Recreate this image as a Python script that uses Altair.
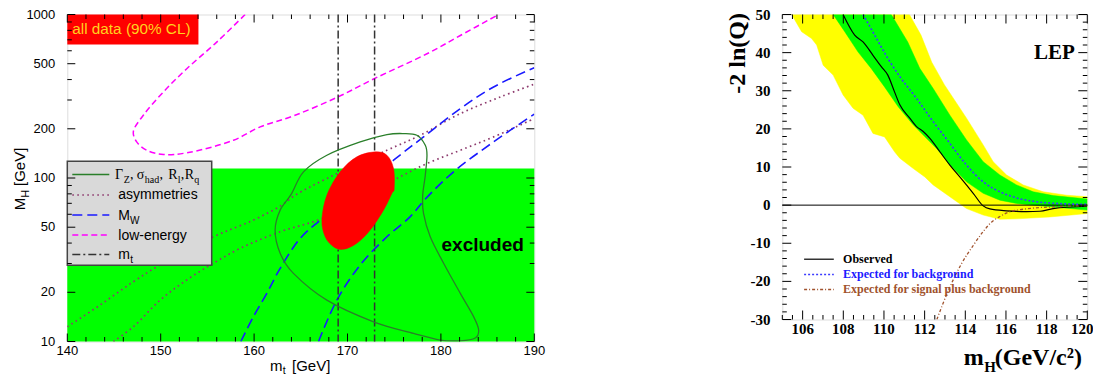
import altair as alt
import pandas as pd

# ================= LEFT PANEL: (m_t, M_H) plane =================
EXCL_MT = [140, 190]
EXCL_MH = [10, 114.4]
TAG_MT = [140, 154.04]
TAG_MH = [656, 1000]
MT_MEAS = [169.0, 172.9]

LOWE_MT = [159.04, 156.0, 152.79, 150.29, 148.14, 147.07, 147.43, 148.51, 150.29, 152.79,
           157.79, 160.65, 164.21, 168.97, 172.86, 178.51, 182.08, 186.18]
LOWE_MH = [1000, 678, 466, 336, 242, 191.5, 166.3, 147.8, 139.2, 142.5,
           170.2, 205.4, 239.8, 313, 405, 575, 744, 1000]

ASYM_A_MT = [140, 143.5, 147.07, 149.93, 155.64, 159.93, 162.79, 164.4, 167.79, 174.22, 177.79, 182.08, 186.36, 190]
ASYM_A_MH = [12.3, 16.7, 23.2, 29.4, 43.7, 55.3, 67.3, 78.5, 99.3, 147.8, 182.5, 247.6, 313, 375]
ASYM_B_MT = [144.93, 147.07, 149.93, 152.79, 155.64, 158.5, 162.79, 167.26, 174.93, 178.51, 182.08, 185.64, 190]
ASYM_B_MH = [10, 12.3, 17.9, 23.8, 30.1, 37.1, 46.9, 56.6, 97, 122.6, 147.8, 178.4, 231]

MW_A_MT = [158.58, 159.93, 161.36, 162.79, 164.93, 167.08, 174.93, 178.14, 182.08, 185.64, 190]
MW_A_MH = [10, 14.2, 19.7, 28.0, 42.7, 55.3, 128.5, 178.4, 265.7, 360.5, 473]
MW_B_MT = [166.9, 168.86, 171.36, 174.22, 176.72, 178.3, 181.36, 185.64, 190]
MW_B_MH = [10, 17.9, 29.4, 43.7, 58.0, 74, 109.1, 166.3, 246]

GZ_MT = [176.0, 177.43, 178.33, 178.51, 178.33, 178.05, 178.14, 178.86, 180.29, 182.08, 183.5, 184.04,
         183.68, 182.08, 179.93, 177.07, 172.79, 167.79, 164.21, 162.79, 162.25, 162.79, 164.0, 165.29,
         167.79, 171.36, 174.22]
GZ_MH = [187, 182.5, 158.6, 137.8, 104, 78, 60.7, 43.7, 30.1, 19.7, 14.2, 11.8,
         10.5, 10.1, 10.2, 11.2, 13.2, 17.9, 26.1, 34.6, 48, 63.6, 80, 109.1,
         137.8, 166.3, 184.3]

ALL_MT = [172.97, 174.22, 174.93, 175.0, 174.75, 173.86, 172.43, 171.0, 169.57, 168.5, 167.61, 167.26,
          167.79, 169.22, 171.0]
ALL_MH = [144.5, 137.8, 114.3, 86, 80.4, 63.6, 48, 39.9, 36.6, 38.0, 43.7, 55.3,
          78.5, 109.1, 134.7]

L_XTICKS = [140, 150, 160, 170, 180, 190]
L_XMINOR = [v for v in range(140, 191, 2) if v % 10 != 0]
L_YTICKS = [10, 20, 50, 100, 200, 500, 1000]
L_YMINOR = [30, 40, 60, 70, 80, 90, 300, 400, 600, 700, 800, 900]

# ================= RIGHT PANEL: -2 ln(Q) vs m_H =================
YEL_LO_X = [105.46, 105.95, 106.44, 106.69, 107.01, 107.5, 107.99, 108.48, 108.97, 109.46, 110.03, 110.52,
            110.78, 111.44, 112.01, 112.42, 113.24, 114.06, 114.88, 115.7, 116.52, 118.16, 120]
YEL_LO_Y = [50, 45.5, 43.7, 42.0, 36.7, 34.1, 28.9, 25.4, 23.6, 18.8, 17.9, 14.0,
            12.3, 9.6, 7.4, 5.3, 2.2, -0.9, -2.6, -3.7, -3.6, -3.1, -2.2]
YEL_HI_X = [111.25, 111.82, 112.35, 112.97, 114.06, 114.88, 115.37, 116.03, 116.85, 117.83, 118.98, 120]
YEL_HI_Y = [50, 44.6, 37.5, 31.6, 22.8, 15.8, 11.4, 7.9, 5.3, 3.5, 2.6, 2.2]
GRN_LO_X = [107.5, 108.07, 108.72, 109.38, 110.03, 110.7, 111.4, 112.0, 112.6, 113.24, 114.06, 114.88,
            115.7, 116.52, 118.16, 120]
GRN_LO_Y = [50, 45.5, 40.2, 35.8, 31.0, 25.8, 21.3, 18.0, 14.8, 10.6, 6.1, 3.1,
            1.3, 0.45, -0.4, -1.3]
GRN_HI_X = [110.36, 111.17, 111.76, 112.42, 113.24, 114.06, 114.88, 115.7, 116.52, 117.34, 118.32, 120]
GRN_HI_Y = [50, 42.8, 35.9, 30.6, 23.6, 17.1, 11.4, 7.9, 5.3, 3.5, 2.5, 1.6]

OBS_X = [107.99, 108.56, 108.97, 109.46, 109.87, 110.19, 110.52, 110.78, 111.27, 111.6, 111.93, 112.26,
         112.75, 113.24, 113.73, 114.39, 114.88, 115.21, 116.03, 117.01, 117.67, 118.32, 120]
OBS_Y = [50, 44.6, 42.8, 39.3, 36.3, 34.1, 29.7, 26.3, 22.8, 20.6, 19.3, 17.5,
         14.0, 10.5, 7.4, 3.1, -0.2, -1.0, -1.5, -1.7, -1.6, -0.9, -0.3]
BKG_X = [108.97, 109.54, 110.19, 110.78, 111.6, 112.42, 113.24, 114.06, 114.88, 115.7, 116.52, 117.34, 118.65, 120]
BKG_Y = [50, 44.6, 38.5, 33.7, 28.0, 21.9, 16.2, 10.5, 6.1, 3.5, 1.9, 1.0, 0.4, 0.2]
SIG_X = [112.6, 113.2, 113.8, 114.4, 114.9, 115.3, 115.7, 116.1, 116.7, 117.3, 118.5, 120]
SIG_Y = [-30, -22, -15.5, -10.5, -6.8, -4.4, -3.0, -1.9, -1.2, -0.8, -0.4, -0.1]

R_XTICKS = list(range(106, 121, 2))
R_XMINOR = [105 + 0.5 * i for i in range(31) if (105 + 0.5 * i) not in R_XTICKS]
R_YTICKS = list(range(-30, 51, 10))
R_YMINOR = [v for v in range(-30, 51, 2) if v % 10 != 0]

# ================= layout / style constants =================
LW, LH = 467, 327
RW, RH = 305, 305
SANS = "Liberation Sans"
SERIF = "Liberation Serif"
ONE = pd.DataFrame({"d": [0]})

LXS = alt.Scale(domain=[140, 190], nice=False, zero=False)
LYS = alt.Scale(type="log", domain=[10, 1000], nice=False)
RXS = alt.Scale(domain=[105, 120], nice=False, zero=False)
RYS = alt.Scale(domain=[-30, 50], nice=False, zero=False)


def curve_df(xs_list, ys_list):
    rows = []
    for k, (xs, ys) in enumerate(zip(xs_list, ys_list)):
        for i, (a, b) in enumerate(zip(xs, ys)):
            rows.append({"x": a, "y": b, "i": i, "k": k})
    return pd.DataFrame(rows)


def curve(xs_list, ys_list, xs, ys, **mk):
    return alt.Chart(curve_df(xs_list, ys_list)).mark_line(clip=True, **mk).encode(
        x=alt.X("x:Q", scale=xs, axis=None),
        y=alt.Y("y:Q", scale=ys, axis=None),
        order=alt.Order("i:Q"),
        detail="k:N",
    )


def T(s, x, y, size, font=SANS, weight="normal", color="black", align="left",
      baseline="alphabetic", angle=0):
    return alt.Chart(ONE).mark_text(text=s, fontSize=size, font=font, fontWeight=weight, color=color,
                                    align=align, baseline=baseline, angle=angle).encode(
        x=alt.value(x), y=alt.value(y))


def seg(x1, x2, y, **mk):
    return alt.Chart(ONE).mark_rule(**mk).encode(x=alt.value(x1), x2=alt.value(x2), y=alt.value(y))


def frame_ticks(xs, ys, xmaj, xmin, ymaj, ymin, w, h, lmaj, lmin):
    out = []
    for vals, L in [(xmaj, lmaj), (xmin, lmin)]:
        base = alt.Chart(pd.DataFrame({"x": vals})).mark_rule(color="black", strokeWidth=1)
        out.append(base.encode(x=alt.X("x:Q", scale=xs, axis=None), y=alt.value(h), y2=alt.value(h - L)))
        out.append(base.encode(x=alt.X("x:Q", scale=xs, axis=None), y=alt.value(0), y2=alt.value(L)))
    for vals, L in [(ymaj, lmaj), (ymin, lmin)]:
        base = alt.Chart(pd.DataFrame({"y": vals})).mark_rule(color="black", strokeWidth=1)
        out.append(base.encode(y=alt.Y("y:Q", scale=ys, axis=None), x=alt.value(0), x2=alt.value(L)))
        out.append(base.encode(y=alt.Y("y:Q", scale=ys, axis=None), x=alt.value(w), x2=alt.value(w - L)))
    return out


def tick_labels(xs, ys, xvals, yvals, h, xpad, ypad, last_dx=0, **style):
    out = []
    for vals, dx in [(xvals[:-1], 0), (xvals[-1:], last_dx)]:
        xd = pd.DataFrame({"x": vals, "t": [str(v) for v in vals]})
        out.append(alt.Chart(xd).mark_text(align="center", baseline="top", dx=dx, **style).encode(
            x=alt.X("x:Q", scale=xs, axis=None), y=alt.value(h + xpad), text="t:N"))
    yd = pd.DataFrame({"y": yvals, "t": [str(v) for v in yvals]})
    out.append(alt.Chart(yd).mark_text(align="right", baseline="middle", **style).encode(
        y=alt.Y("y:Q", scale=ys, axis=None), x=alt.value(-ypad), text="t:N"))
    return out


# ---------------- left panel layers ----------------
excl = alt.Chart(pd.DataFrame({"x": [EXCL_MT[0]], "x2": [EXCL_MT[1]], "y": [EXCL_MH[0]], "y2": [EXCL_MH[1]]})
                 ).mark_rect(color="#00ff00").encode(
    x=alt.X("x:Q", scale=LXS, axis=None), x2="x2:Q",
    y=alt.Y("y:Q", scale=LYS, axis=None), y2="y2:Q")

tag = alt.Chart(pd.DataFrame({"x": [TAG_MT[0]], "x2": [TAG_MT[1]], "y": [TAG_MH[0]], "y2": [TAG_MH[1]]})
                ).mark_rect(color="#ff0000").encode(
    x=alt.X("x:Q", scale=LXS, axis=None), x2="x2:Q",
    y=alt.Y("y:Q", scale=LYS, axis=None), y2="y2:Q")

lowe = curve([LOWE_MT], [LOWE_MH], LXS, LYS, interpolate="catmull-rom", color="#ff00ff",
             strokeWidth=1.5, strokeDash=[6, 3.5])
asym = curve([ASYM_A_MT, ASYM_B_MT], [ASYM_A_MH, ASYM_B_MH], LXS, LYS, interpolate="catmull-rom",
             color="#8e3b6e", strokeWidth=1.7, strokeDash=[1.6, 3.4])
mw = curve([MW_A_MT, MW_B_MT], [MW_A_MH, MW_B_MH], LXS, LYS, interpolate="catmull-rom",
           color="#1a1aff", strokeWidth=1.6, strokeDash=[10, 5])
mt_lines = alt.Chart(pd.DataFrame({"x": MT_MEAS})).mark_rule(color="#333333", strokeWidth=1.5,
                                                             strokeDash=[8, 3, 2, 3]).encode(
    x=alt.X("x:Q", scale=LXS, axis=None), y=alt.value(0), y2=alt.value(LH))
gz = curve([GZ_MT], [GZ_MH], LXS, LYS, interpolate="cardinal-closed", color="#2a7f2a", strokeWidth=1.3)
alldata = curve([ALL_MT], [ALL_MH], LXS, LYS, interpolate="cardinal-closed", color="#ff0000",
                fill="#ff0000", strokeWidth=0.5)

l_legend = [
    alt.Chart(ONE).mark_rect(fill="#d9d9d9", stroke="#444444", strokeWidth=1.5).encode(
        x=alt.value(0), x2=alt.value(144.4), y=alt.value(146.7), y2=alt.value(250.7)),
    seg(5, 42, 160, color="#2a7f2a", strokeWidth=1.3),
    seg(5, 42, 180.5, color="#8e3b6e", strokeWidth=1.7, strokeDash=[1.6, 3.4]),
    seg(5, 42, 200.5, color="#1a1aff", strokeWidth=1.6, strokeDash=[10, 5]),
    seg(5, 42, 220.5, color="#ff00ff", strokeWidth=1.5, strokeDash=[6, 3.5]),
    seg(5, 42, 240, color="#333333", strokeWidth=1.5, strokeDash=[8, 3, 2, 3]),
    T("\u0393", 47.7, 164, 14, font=SERIF), T("Z", 56.5, 168, 10, font=SERIF),
    T(",", 62.8, 164, 14, font=SERIF),
    T("\u03c3", 69.4, 164, 14, font=SERIF), T("had", 77.5, 168, 10, font=SERIF),
    T(",", 92.2, 164, 14, font=SERIF),
    T("R", 101, 164, 14, font=SERIF), T("l", 110.5, 168, 10, font=SERIF),
    T(",", 113.5, 164, 14, font=SERIF),
    T("R", 117.5, 164, 14, font=SERIF), T("q", 127, 168, 10, font=SERIF),
    T("asymmetries", 51, 184.5, 14),
    T("M", 51, 205, 14), T("W", 62.7, 209, 10),
    T("low-energy", 51, 225, 14),
    T("m", 51, 244.5, 14), T("t", 63, 248.5, 10),
]

l_text = [
    T("all data (90% CL)", 5, 19, 15.3, color="#ffd21f"),
    T("excluded", 415.4, 236.3, 19, weight="bold", align="center"),
    # axis titles
    T("m", 202.7, 356, 15), T("t", 215.5, 359.3, 10.5), T("[GeV]", 224.7, 356, 15),
    T("M", -42.3, 195.7, 15, angle=270), T("H", -38.8, 183, 10.5, angle=270),
    T("[GeV]", -42.3, 171.5, 15, angle=270),
]

left = alt.layer(
    excl, tag, lowe, asym, mw, mt_lines, gz, alldata, *l_legend, *l_text,
    *frame_ticks(LXS, LYS, L_XTICKS, L_XMINOR, L_YTICKS, L_YMINOR, LW, LH, 8, 4.5),
    *tick_labels(LXS, LYS, L_XTICKS, L_YTICKS, LH, 3, 12, font=SANS, fontSize=13, color="black"),
).properties(width=LW, height=LH)


# ---------------- right panel layers ----------------
def polygon(lo_x, lo_y, hi_x, hi_y, color):
    xs = list(lo_x) + list(reversed(hi_x))
    ys = list(lo_y) + list(reversed(hi_y))
    df = pd.DataFrame({"x": xs, "y": ys, "i": range(len(xs))})
    return alt.Chart(df).mark_line(interpolate="linear-closed", fill=color, stroke=color, strokeWidth=0.5,
                                   clip=True).encode(
        x=alt.X("x:Q", scale=RXS, axis=None), y=alt.Y("y:Q", scale=RYS, axis=None), order="i:Q")


yel = polygon(YEL_LO_X, YEL_LO_Y, YEL_HI_X, YEL_HI_Y, "#ffff00")
grn = polygon(GRN_LO_X, GRN_LO_Y, GRN_HI_X, GRN_HI_Y, "#00ff00")
zero = alt.Chart(pd.DataFrame({"y": [0]})).mark_rule(color="black", strokeWidth=1).encode(
    y=alt.Y("y:Q", scale=RYS, axis=None), x=alt.value(0), x2=alt.value(RW))
obs = curve([OBS_X], [OBS_Y], RXS, RYS, interpolate="monotone", color="black", strokeWidth=1.2)
bkg = curve([BKG_X], [BKG_Y], RXS, RYS, interpolate="monotone", color="#3a3aff", strokeWidth=1.6,
            strokeDash=[2, 2])
sig = curve([SIG_X], [SIG_Y], RXS, RYS, interpolate="monotone", color="#a0522d", strokeWidth=1.3,
            strokeDash=[3, 2, 1, 2])

r_text = [
    seg(21.8, 51.5, 244.7, color="black", strokeWidth=1.2),
    seg(21.8, 51.5, 260, color="#3a3aff", strokeWidth=1.6, strokeDash=[2, 2]),
    seg(21.8, 51.5, 275, color="#a0522d", strokeWidth=1.3, strokeDash=[3, 2, 1, 2]),
    T("Observed", 60.8, 248.3, 12, font=SERIF, weight="bold"),
    T("Expected for background", 60.8, 263.3, 12, font=SERIF, weight="bold", color="#1a1aff"),
    T("Expected for signal plus background", 60.8, 278.3, 12, font=SERIF, weight="bold", color="#a0522d"),
    T("LEP", 292.5, 44.7, 21, font=SERIF, weight="bold", align="right"),
    T("-2 ln(Q)", -37, -1.5, 24, font=SERIF, weight="bold", align="right", angle=270),
    T("m", 201.5, 350.5, 24, font=SERIF, weight="bold", align="right"),
    T("H", 202, 357.3, 15, font=SERIF, weight="bold"),
    T("(GeV/c\u00b2)", 212.5, 350.5, 24, font=SERIF, weight="bold"),
]

right = alt.layer(
    yel, grn, zero, obs, bkg, sig, *r_text,
    *frame_ticks(RXS, RYS, R_XTICKS, R_XMINOR, R_YTICKS, R_YMINOR, RW, RH, 9, 4.5),
    *tick_labels(RXS, RYS, R_XTICKS, R_YTICKS, RH, 2.5, 11.8, last_dx=-5, font=SERIF, fontSize=15,
                 fontWeight="bold", color="black"),
).properties(width=RW, height=RH)

chart = alt.hconcat(left, right, spacing=248, bounds="flush").properties(
    autosize=alt.AutoSizeParams(type="none"),
    padding={"left": 59.3, "top": 6.5, "right": 1025.7, "bottom": 360.5},
).configure_view(stroke="black", strokeWidth=1.5).configure(background="white")

chart.save("out.html", embed_options={"renderer": "svg", "actions": False})
